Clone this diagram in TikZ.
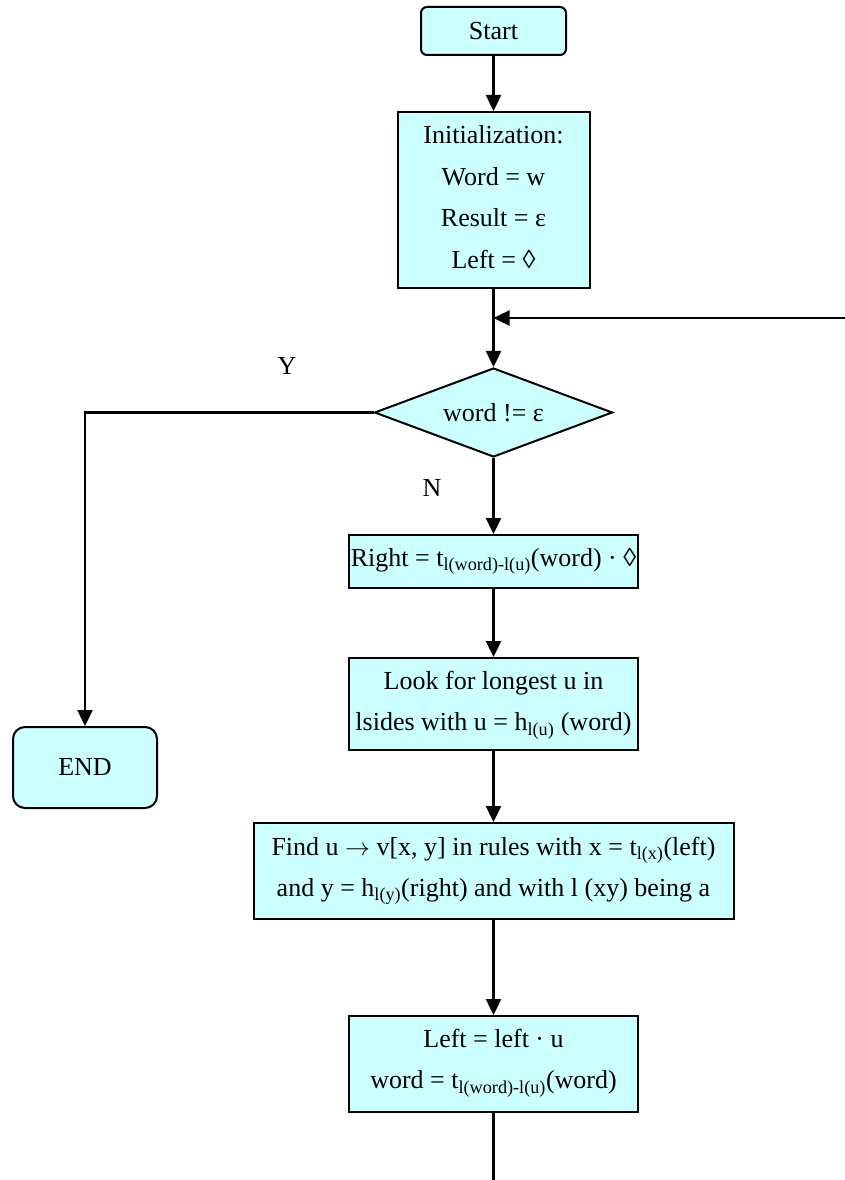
\documentclass[tikz,border=0pt]{standalone}
\usepackage{fontspec}
\setmainfont{Liberation Serif}
\usetikzlibrary{shapes.geometric,arrows.meta}
\definecolor{boxfill}{HTML}{CCFFFF}
\newcommand{\lsub}[1]{\textsubscript{#1}}
\begin{document}
\begin{tikzpicture}[x=1pt,y=-1pt,
  every node/.style={font=\fontsize{26}{41.5}\selectfont, text=black},
  box/.style={draw=black, line width=2pt, fill=boxfill, inner sep=2pt},
  rbox/.style={box, rounded corners=6pt},
  decbox/.style={draw=black, line width=2pt, fill=boxfill, diamond, aspect=2.67, inner sep=0pt},
  arr/.style={line width=2.4pt, -{Triangle[length=16pt,width=15pt]}},
  ln/.style={line width=2.4pt}]
\useasboundingbox (0,0) rectangle (845,1180);
\fill[white] (0,0) rectangle (845,1180);

\node[rbox, minimum width=145, minimum height=48] (start) at (493.5,31) {Start};
\node[box, minimum width=192, minimum height=176] (init) at (493.5,200) {};
\node[align=center] (inittext) at (493.5,197) {Initialization:\\Word = w\\Result = ε\\Left = ◊};
\coordinate (merge) at (493.5,318);
\coordinate (loopin) at (845,318);
\node[decbox, minimum width=238, minimum height=89] (dec) at (493.5,412.5) {word != ε};
\node[rbox, rounded corners=12pt, minimum width=144, minimum height=81] (end) at (85,767.5) {END};
\node (ylab) at (287,366) {Y};
\node (nlab) at (432,488) {N};
\node[box, minimum width=289, minimum height=53] (right) at (493.5,561.5) {Right = t\lsub{l(word)-l(u)}(word) · ◊};
\node[box, minimum width=289, minimum height=92] (look) at (493.5,704) {};
\node[align=center] (looktext) at (493.5,705) {Look for longest u in\\lsides with u = h\lsub{l(u)} (word)};
\node[box, minimum width=480, minimum height=96] (find) at (493.5,871) {};
\node[align=center] (findtext) at (493.5,871) {Find u $\rightarrow$ v[x, y] in rules with x = t\lsub{l(x)}(left)\\and y = h\lsub{l(y)}(right) and with l (xy) being a};
\node[box, minimum width=289, minimum height=96] (upd) at (493.5,1064) {};
\node[align=center] (updtext) at (493.5,1063) {Left = left · u\\word = t\lsub{l(word)-l(u)}(word)};
\coordinate (exit) at (493.5,1180);

\draw[arr] (start) -- (init);
\draw[arr] (init) -- (dec);
\draw[arr] (loopin) -- (merge);
\draw[arr] (dec.west) -| (end.north);
\draw[arr] (dec) -- (right);
\draw[arr] (right) -- (look);
\draw[arr] (look) -- (find);
\draw[arr] (find) -- (upd);
\draw[ln] (upd) -- (exit);
\end{tikzpicture}
\end{document}
